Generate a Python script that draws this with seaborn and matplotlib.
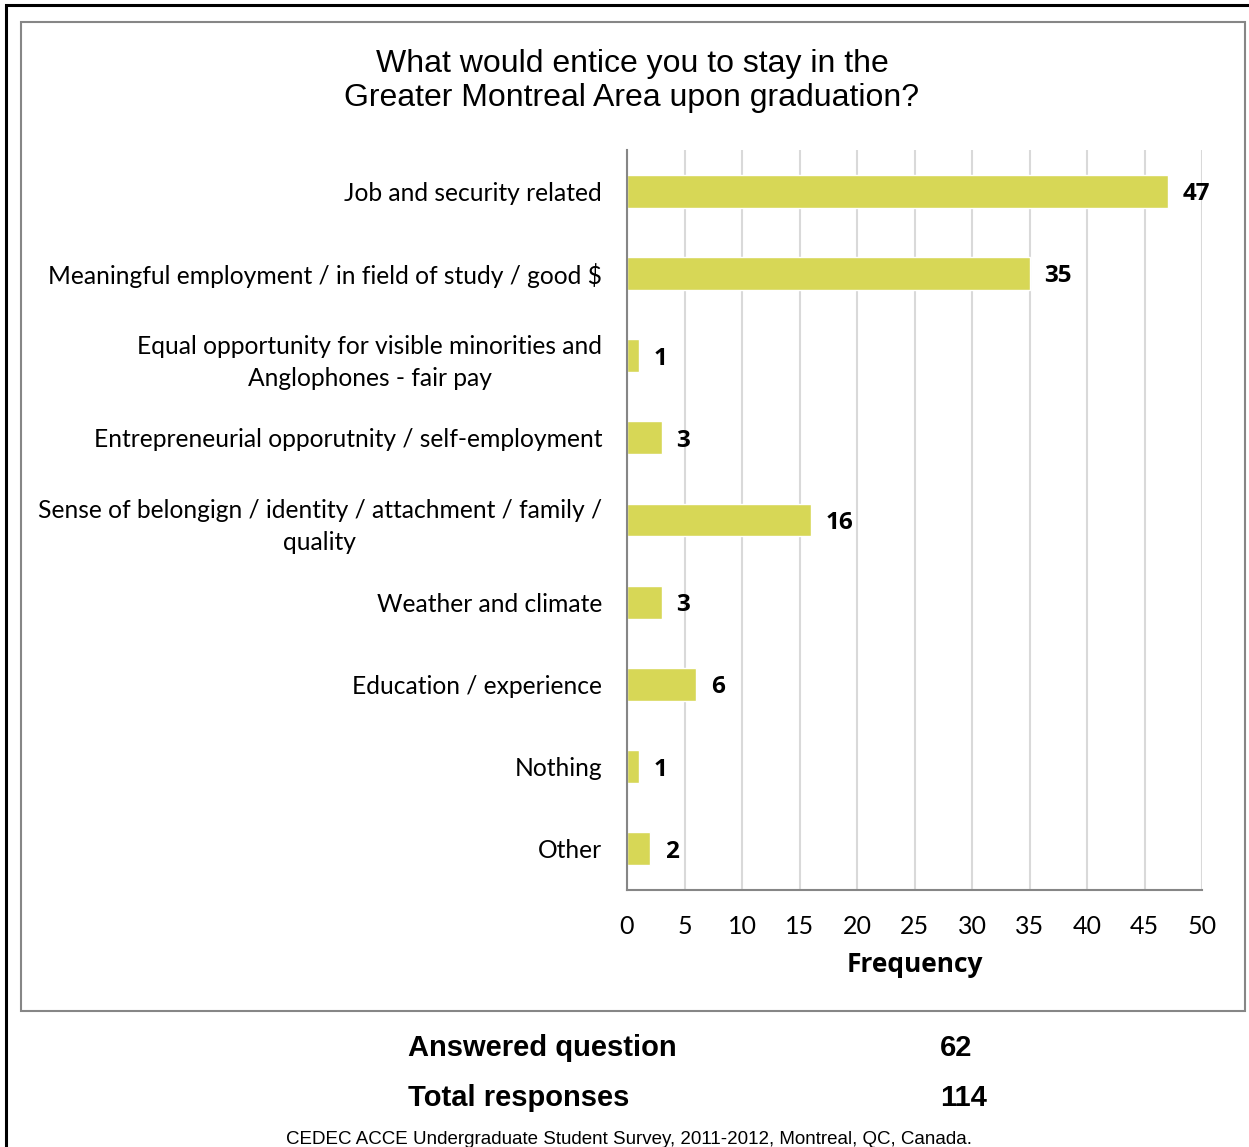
import matplotlib
matplotlib.use("Agg")
import matplotlib.pyplot as plt
import seaborn as sns
import pandas as pd
from matplotlib.patches import Rectangle

categories = [
    "Job and security related",
    "Meaningful employment / in field of study / good $",
    "Equal opportunity for visible minorities and\nAnglophones - fair pay",
    "Entrepreneurial opporutnity / self-employment",
    "Sense of belongign / identity / attachment / family /\nquality",
    "Weather and climate",
    "Education / experience",
    "Nothing",
    "Other",
]
frequency = [47, 35, 1, 3, 16, 3, 6, 1, 2]
x_ticks = [0, 5, 10, 15, 20, 25, 30, 35, 40, 45, 50]
title = "What would entice you to stay in the\nGreater Montreal Area upon graduation?"
summary_labels = ["Answered question", "Total responses"]
summary_values = [62, 114]
source = "CEDEC ACCE Undergraduate Student Survey, 2011-2012, Montreal, QC, Canada."

sns.set_theme(style="white")
plt.rcParams['font.family'] = ['Lato', 'DejaVu Sans']
plt.rcParams['text.color'] = 'black'
plt.rcParams['axes.labelcolor'] = 'black'

W, H = 1249, 1147
fig = plt.figure(figsize=(W / 100, H / 100), dpi=100)

def fx(px):
    return px / W

def fy(py):
    return 1 - py / H

# outer black frame and inner gray frame
fig.patches.append(Rectangle((fx(6), fy(1200)), fx(1300), fy(5) - fy(1200),
                             transform=fig.transFigure, fill=False, ec="black", lw=2.2))
fig.patches.append(Rectangle((fx(21), fy(1011)), fx(1245) - fx(21), fy(22) - fy(1011),
                             transform=fig.transFigure, fill=False, ec="#868686", lw=1.5))

ax_l, ax_r, ax_t, ax_b = 627, 1202, 150, 890
ax = fig.add_axes([fx(ax_l), fy(ax_b), fx(ax_r) - fx(ax_l), fy(ax_t) - fy(ax_b)])

df = pd.DataFrame({"category": categories, "frequency": frequency})
sns.barplot(data=df, y="category", x="frequency", orient="h", color="#D7D756",
            saturation=1, width=0.4, ax=ax)

ax.set_xlim(0, 50)
ax.set_ylim(len(categories) - 0.5, -0.5)
ax.set_xticks(x_ticks)
ax.set_xticklabels([str(t) for t in x_ticks], fontsize=18, color="black")
ax.tick_params(axis="x", length=6, width=1.2, color="#868686", direction="out", pad=12)
ax.set_yticks(range(len(categories)))
ax.set_yticklabels(categories, fontsize=17.7, color="black", ha="right",
                   multialignment="center", linespacing=1.5)
ax.tick_params(axis="y", which="major", length=0, pad=18)
ax.set_yticks([i - 0.5 for i in range(len(categories) + 1)], minor=True)
ax.tick_params(axis="y", which="minor", length=6, width=1.2, color="#868686", direction="out")
ax.set_ylabel("")
ax.set_xlabel("Frequency", fontsize=19, fontweight="bold", labelpad=9,
              family=["Open Sans", "DejaVu Sans"], color="black")

ax.xaxis.grid(True, color="#D9D9D9", lw=1.5)
ax.set_axisbelow(True)
for s in ["top", "right"]:
    ax.spines[s].set_visible(False)
for s in ["left", "bottom"]:
    ax.spines[s].set_color("#868686")
    ax.spines[s].set_linewidth(1.5)

for i, v in enumerate(frequency):
    ax.text(v + 1.3, i, str(v), va="center_baseline", ha="left", fontsize=17.5,
            fontweight="bold", family=["Open Sans", "DejaVu Sans"])

fig.text(fx(632), fy(81), title, ha="center", va="center", fontsize=23,
         family=["Liberation Sans", "DejaVu Sans"], linespacing=1.15)

for j, (lab, val) in enumerate(zip(summary_labels, summary_values)):
    y = fy(1048 + 50 * j)
    fig.text(fx(408), y, lab, ha="left", va="center", fontsize=21, fontweight="bold",
             family=["Liberation Sans", "DejaVu Sans"])
    fig.text(fx(940), y, str(val), ha="left", va="center", fontsize=21, fontweight="bold",
             family=["Liberation Sans", "DejaVu Sans"])

fig.text(fx(629), fy(1140), source, ha="center", va="center", fontsize=13.5,
         family=["Liberation Sans", "DejaVu Sans"])

fig.savefig("out.png", dpi=100)
